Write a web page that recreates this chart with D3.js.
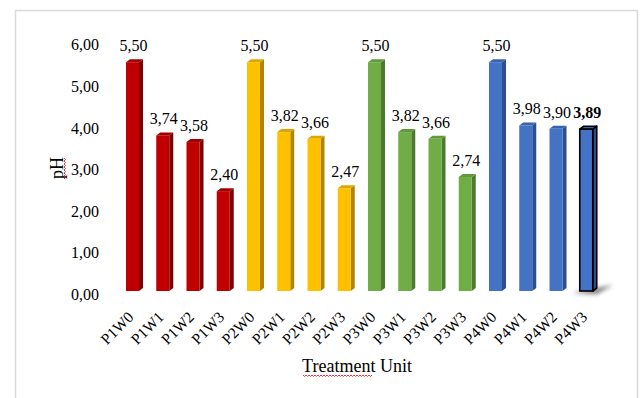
<!DOCTYPE html>
<html>
<head>
<meta charset="utf-8">
<script src="https://cdn.jsdelivr.net/npm/d3@7/dist/d3.min.js"></script>
<style>
  html, body { margin: 0; padding: 0; background: #fff; }
  svg { display: block; font-family: "Liberation Serif", "Times New Roman", serif; }
</style>
</head>
<body>
<svg id="chart" width="640" height="398"></svg>
<script>
// pH per treatment unit
const categories = ["P1W0","P1W1","P1W2","P1W3","P2W0","P2W1","P2W2","P2W3",
                    "P3W0","P3W1","P3W2","P3W3","P4W0","P4W1","P4W2","P4W3"];
const phValues = [5.50, 3.74, 3.58, 2.40, 5.50, 3.82, 3.66, 2.47,
                  5.50, 3.82, 3.66, 2.74, 5.50, 3.98, 3.90, 3.89];
const groups = ["P1","P1","P1","P1","P2","P2","P2","P2",
                "P3","P3","P3","P3","P4","P4","P4","P4"];
const yTicks = [0, 1, 2, 3, 4, 5, 6];
const highlighted = "P4W3";

const groupFront = { P1: "#C00000", P2: "#FFC000", P3: "#70AD47", P4: "#4472C4" };
const groupSide  = { P1: "#7E0000", P2: "#B08500", P3: "#4D7A31", P4: "#2D4F8E" };
const groupTop   = { P1: "#A00000", P2: "#DDA600", P3: "#5F9A3B", P4: "#3A63AE" };

const fmt = v => v.toFixed(2).replace(".", ",");

const svg = d3.select("#chart");

// chart frame
svg.append("rect")
  .attr("x", 15.5).attr("y", 10.5)
  .attr("width", 622).attr("height", 400)
  .attr("fill", "none").attr("stroke", "#d9d9d9").attr("stroke-width", 1.5);

const y = d3.scaleLinear().domain([0, 6]).range([291, 41.4]);
const x = d3.scaleBand().domain(categories).range([108.75, 610]).paddingInner(0.57).paddingOuter(0.57);

const depthX = 4, depthY = 3;

// y tick labels
svg.append("g").selectAll("text")
  .data(yTicks).join("text")
  .attr("x", 99).attr("y", d => y(d) + 9)
  .attr("text-anchor", "end")
  .attr("font-size", 16).attr("fill", "#000")
  .text(d => fmt(d));

// shadow under the highlighted bar
const hx = x(highlighted);
svg.append("defs").append("filter").attr("id", "soft")
  .attr("x", "-50%").attr("y", "-50%").attr("width", "200%").attr("height", "200%")
  .append("feGaussianBlur").attr("stdDeviation", 2.2);
svg.append("path")
  .attr("d", `M${hx - 8},${y(0) + 2} L${hx + x.bandwidth() + 20},${y(0) - 6} L${hx + x.bandwidth() + 4},${y(0) + 3} Z`)
  .attr("fill", "#555").attr("opacity", 0.8).attr("filter", "url(#soft)");

// 3D bars
const bars = svg.append("g").selectAll("g")
  .data(categories.map((c, i) => ({ c, v: phValues[i], g: groups[i] })))
  .join("g");

bars.each(function(d) {
  const g = d3.select(this);
  const x0 = x(d.c), w = x.bandwidth(), yt = y(d.v), yb = y(0);
  const hl = d.c === highlighted;
  const stroke = hl ? "#000" : "none";
  const sw = hl ? 1.6 : 0;
  g.append("path") // side face
    .attr("d", `M${x0 + w},${yt} L${x0 + w + depthX},${yt - depthY} L${x0 + w + depthX},${yb - depthY} L${x0 + w},${yb} Z`)
    .attr("fill", groupSide[d.g]).attr("stroke", stroke).attr("stroke-width", sw).attr("stroke-linejoin", "round");
  g.append("path") // top face
    .attr("d", `M${x0},${yt} L${x0 + depthX},${yt - depthY} L${x0 + w + depthX},${yt - depthY} L${x0 + w},${yt} Z`)
    .attr("fill", groupTop[d.g]).attr("stroke", stroke).attr("stroke-width", sw).attr("stroke-linejoin", "round");
  g.append("rect") // front face
    .attr("x", x0).attr("y", yt).attr("width", w).attr("height", yb - yt)
    .attr("fill", groupFront[d.g]).attr("stroke", stroke).attr("stroke-width", sw);
});

// value labels
svg.append("g").selectAll("text")
  .data(categories.map((c, i) => ({ c, v: phValues[i] })))
  .join("text")
  .attr("x", d => x(d.c) + x.bandwidth() / 2 + 1)
  .attr("y", d => y(d.v) - 11)
  .attr("text-anchor", "middle")
  .attr("font-size", 16)
  .attr("font-weight", d => d.c === highlighted ? "bold" : "normal")
  .attr("fill", "#000")
  .text(d => fmt(d.v));

// category labels, rotated
svg.append("g").selectAll("text")
  .data(categories).join("text")
  .attr("transform", d => `translate(${x(d) + x.bandwidth() / 2 + 2},${318}) rotate(-45)`)
  .attr("text-anchor", "end")
  .attr("font-size", 15.5).attr("fill", "#000")
  .text(d => d);

// axis titles
svg.append("text")
  .attr("transform", "translate(63,168) rotate(-90)")
  .attr("text-anchor", "middle")
  .attr("font-size", 18).attr("fill", "#000")
  .text("pH");

svg.append("text")
  .attr("x", 357).attr("y", 372)
  .attr("text-anchor", "middle")
  .attr("font-size", 18).attr("fill", "#000")
  .text("Treatment Unit");

// spell-check squiggles under "pH" and "Treatment"
function squiggle(x0, y0, len, vertical) {
  const pts = [];
  const step = 1.5;
  for (let i = 0; i * step <= len; i++) {
    const off = (i % 2 === 0) ? 0 : 1.5;
    pts.push(vertical ? [x0 + off, y0 - i * step] : [x0 + i * step, y0 + off]);
  }
  svg.append("path")
    .attr("d", d3.line()(pts))
    .attr("fill", "none").attr("stroke", "#e02020").attr("stroke-width", 0.9);
}
squiggle(64, 179, 21, true);
squiggle(303, 375, 70, false);
</script>
</body>
</html>
